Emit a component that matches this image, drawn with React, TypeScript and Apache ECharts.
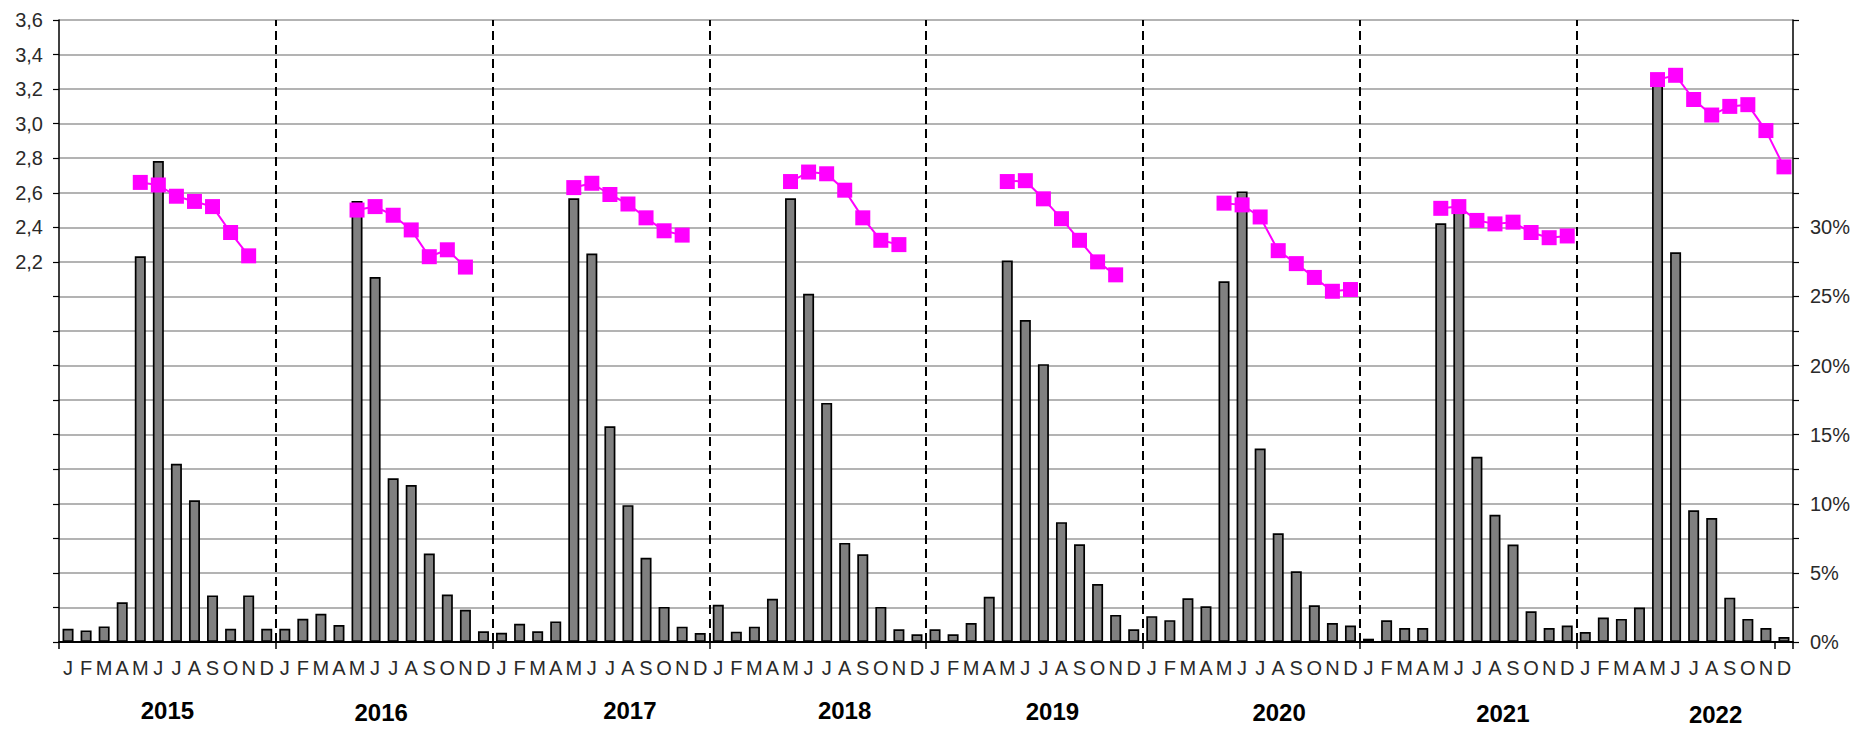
import React, { useEffect, useRef } from 'react';
import * as echarts from 'echarts';

const years = ['2015', '2016', '2017', '2018', '2019', '2020', '2021', '2022'];
const monthLetters = ['J', 'F', 'M', 'A', 'M', 'J', 'J', 'A', 'S', 'O', 'N', 'D'];

// monthly share (%) - right axis
const share2015 = [0.96, 0.84, 1.13, 2.88, 27.9, 34.8, 12.9, 10.25, 3.37, 0.96, 3.37, 0.96];
const share2016 = [0.96, 1.68, 2.04, 1.23, 31.9, 26.4, 11.84, 11.35, 6.4, 3.44, 2.33, 0.77];
const share2017 = [0.67, 1.32, 0.77, 1.49, 32.1, 28.1, 15.6, 9.9, 6.1, 2.54, 1.11, 0.65];
const share2018 = [2.69, 0.75, 1.11, 3.12, 32.1, 25.2, 17.3, 7.17, 6.34, 2.54, 0.92, 0.56];
const share2019 = [0.92, 0.56, 1.38, 3.27, 27.6, 23.3, 20.1, 8.67, 7.07, 4.19, 1.96, 0.92];
const share2020 = [1.87, 1.58, 3.17, 2.58, 26.1, 32.6, 14.0, 7.86, 5.12, 2.66, 1.38, 1.19];
const share2021 = [0.24, 1.57, 1.01, 1.01, 30.3, 31.5, 13.4, 9.2, 7.05, 2.22, 1.01, 1.19];
const share2022 = [0.72, 1.77, 1.67, 2.49, 40.5, 28.2, 9.53, 8.97, 3.21, 1.67, 1.01, 0.36];

// price - left axis
const price2015 = [null, null, null, null, 2.66, 2.645, 2.58, 2.55, 2.52, 2.37, 2.235, null];
const price2016 = [null, null, null, null, 2.5, 2.52, 2.47, 2.385, 2.23, 2.27, 2.17, null];
const price2017 = [null, null, null, null, 2.63, 2.655, 2.59, 2.535, 2.455, 2.38, 2.355, null];
const price2018 = [null, null, null, null, 2.665, 2.72, 2.71, 2.615, 2.455, 2.325, 2.3, null];
const price2019 = [null, null, null, null, 2.665, 2.67, 2.565, 2.45, 2.325, 2.2, 2.125, null];
const price2020 = [null, null, null, null, 2.54, 2.53, 2.46, 2.265, 2.19, 2.11, 2.03, 2.04];
const price2021 = [null, null, null, null, 2.51, 2.52, 2.44, 2.42, 2.43, 2.37, 2.34, 2.35];
const price2022 = [null, null, null, null, 3.255, 3.28, 3.14, 3.05, 3.1, 3.11, 2.96, 2.75];

const yearDividers = [12, 24, 36, 48, 60, 72, 84];

// year label nudges (px): horizontal, vertical
const yearShiftX = [0, -3, 29, 27, 18, 28, 35, 31];
const yearShiftY = [1, 4, 0, 0, 3, 4, 6, 9];

const shares = [share2015, share2016, share2017, share2018, share2019, share2020, share2021, share2022];
const prices = [price2015, price2016, price2017, price2018, price2019, price2020, price2021, price2022];

const monthCats: string[] = [];
years.forEach((y) => monthLetters.forEach((m, i) => monthCats.push(`${y}-${m}-${i}`)));
const shareData = shares.flat();
const priceData = prices.flat();

const baseFont = "'Liberation Sans', Arial, sans-serif";
const narrowFont = "'Liberation Sans Narrow', 'Arial Narrow', 'Liberation Sans', sans-serif";

export default function App() {
  const ref = useRef<HTMLDivElement>(null);
  useEffect(() => {
    document.body.style.margin = '0';
    if (!ref.current) return;
    const chart = echarts.init(ref.current, null, { renderer: 'svg' });
    const rich: any = {};
    years.forEach((_, i) => {
      const dx = yearShiftX[i];
      rich['y' + i] = {
        fontSize: 24,
        fontWeight: 'bold',
        fontFamily: narrowFont,
        color: '#000',
        lineHeight: 26,
        padding: [yearShiftY[i], dx < 0 ? -2 * dx : 0, 0, dx > 0 ? 2 * dx : 0],
      };
    });
    const option: any = {
      animation: false,
      backgroundColor: '#ffffff',
      grid: { left: 59, right: 63, top: 20, bottom: 87, containLabel: false },
      xAxis: [
        {
          type: 'category',
          data: monthCats,
          position: 'bottom',
          axisLine: { show: true, lineStyle: { color: '#000', width: 2 } },
          axisTick: { show: true, interval: 11, length: 7, lineStyle: { color: '#000', width: 1.5 } },
          axisLabel: {
            interval: 0,
            formatter: (v: string) => v.split('-')[1],
            fontSize: 20,
            color: '#2a2a2a',
            margin: 16,
            fontFamily: baseFont,
          },
          splitLine: { show: false },
        },
        {
          type: 'category',
          data: years,
          position: 'bottom',
          axisLine: { show: false },
          axisTick: { show: false },
          axisLabel: {
            interval: 0,
            margin: 55,
            formatter: (v: string, i: number) => `{y${i}|${v}}`,
            rich,
          },
          splitLine: { show: false },
        },
        { type: 'value', min: 0, max: 96, show: false },
      ],
      yAxis: [
        {
          type: 'value',
          min: 0,
          max: 3.6,
          interval: 0.2,
          position: 'left',
          axisLine: { show: true, lineStyle: { color: '#000', width: 1.5 } },
          axisTick: { show: true, length: 6, lineStyle: { color: '#000', width: 1.2 } },
          axisLabel: {
            formatter: (v: number) => (v >= 2.19 ? v.toFixed(1).replace('.', ',') : ''),
            fontSize: 20,
            color: '#2a2a2a',
            margin: 16,
            fontFamily: baseFont,
          },
          splitLine: { show: true, lineStyle: { color: '#9a9a9a', width: 1.5 } },
        },
        {
          type: 'value',
          min: 0,
          max: 45,
          interval: 2.5,
          position: 'right',
          axisLine: { show: true, lineStyle: { color: '#000', width: 1.5 } },
          axisTick: { show: true, length: 6, lineStyle: { color: '#000', width: 1.2 } },
          axisLabel: {
            formatter: (v: number) => {
              const k = v / 5;
              return v <= 30.01 && Math.abs(k - Math.round(k)) < 1e-6 ? `${Math.round(v)}%` : '';
            },
            fontSize: 20,
            color: '#2a2a2a',
            margin: 17,
            fontFamily: baseFont,
          },
          splitLine: { show: false },
        },
      ],
      series: [
        {
          type: 'bar',
          xAxisIndex: 0,
          yAxisIndex: 1,
          data: shareData,
          barWidth: 11,
          itemStyle: { color: '#808080', borderColor: '#000', borderWidth: 1.7 },
          z: 2,
        },
        {
          type: 'line',
          xAxisIndex: 0,
          yAxisIndex: 0,
          data: priceData,
          connectNulls: false,
          symbol: 'rect',
          symbolSize: 15,
          itemStyle: { color: '#ff00ff' },
          lineStyle: { color: '#ff00ff', width: 2 },
          z: 4,
        },
        {
          type: 'scatter',
          xAxisIndex: 2,
          yAxisIndex: 0,
          data: yearDividers.map((d) => [d, 0]),
          symbolSize: 0,
          silent: true,
          z: 3,
          markLine: {
            silent: true,
            symbol: ['none', 'none'],
            label: { show: false },
            lineStyle: { color: '#000', type: [9, 5], width: 2 },
            data: yearDividers.map((d) => ({ xAxis: d })),
          },
        },
      ],
    };
    chart.setOption(option);
    return () => chart.dispose();
  }, []);
  return <div ref={ref} style={{ width: 1856, height: 729 }} />;
}
